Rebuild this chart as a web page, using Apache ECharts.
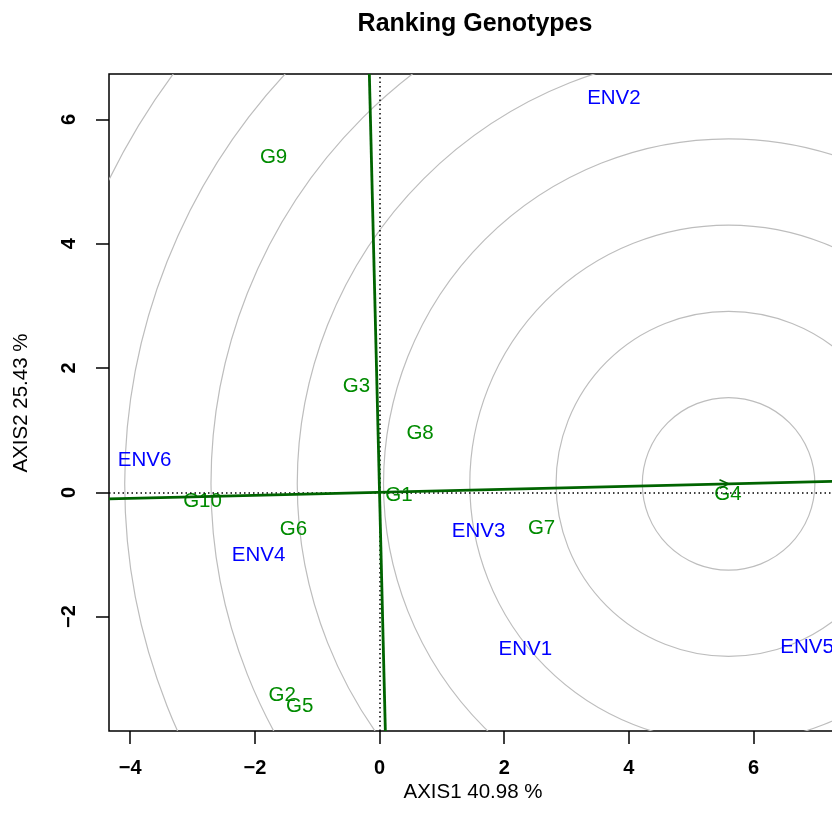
<!DOCTYPE html>
<html>
<head>
<meta charset="utf-8">
<script src="https://cdn.jsdelivr.net/npm/echarts@6/dist/echarts.min.js"></script>
<style>
  html, body { margin: 0; padding: 0; background: #ffffff; }
  #chart { width: 832px; height: 829px; }
</style>
</head>
<body>
<div id="chart"></div>
<script>
// Genotype scores on the first two principal axes
const genotypeNames = ['G1', 'G2', 'G3', 'G4', 'G5', 'G6', 'G7', 'G8', 'G9', 'G10'];
const genotypeX = [0.31, -1.56, -0.37, 5.59, -1.28, -1.38, 2.60, 0.65, -1.70, -2.84];
const genotypeY = [-0.05, -3.26, 1.71, -0.03, -3.45, -0.60, -0.58, 0.95, 5.39, -0.14];

// Environment scores
const envNames = ['ENV1', 'ENV2', 'ENV3', 'ENV4', 'ENV5', 'ENV6'];
const envX = [2.34, 3.76, 1.59, -1.94, 6.86, -3.77];
const envY = [-2.52, 6.34, -0.63, -1.01, -2.49, 0.52];

// Average-environment coordinate (tip of the ranking axis, centre of the rings)
const aecPoint = [5.60, 0.136];
// Radii of the concentric distance rings around the ideal point
const ringRadii = [1.384, 2.768, 4.152, 5.536, 6.920, 8.304, 9.688, 11.072];

// Axis ranges and tick labels
const xRange = [-4.34, 7.74];
const yRange = [-3.84, 6.73];
const xTicks = [-4, -2, 0, 2, 4, 6];
const yTicks = [-2, 0, 2, 4, 6];

const titleText = 'Ranking Genotypes';
const xAxisTitle = 'AXIS1 40.98 %';
const yAxisTitle = 'AXIS2 25.43 %';

const FONT = '"Liberation Sans", Arial, Helvetica, sans-serif';
const GENO_COLOR = '#008b00';
const ENV_COLOR = '#0000ff';
const AXIS_LINE_COLOR = '#006400';

// Ranking axis: the line through the origin and the average environment;
// the second line is perpendicular to it, also through the origin.
const slope = aecPoint[1] / aecPoint[0];
const aecLine = [[xRange[0], xRange[0] * slope], [xRange[1], xRange[1] * slope]];
const perpLine = [[-yRange[0] * slope, yRange[0]], [-yRange[1] * slope, yRange[1]]];

const genotypeData = genotypeNames.map((n, i) => [genotypeX[i], genotypeY[i], n]);
const envData = envNames.map((n, i) => [envX[i], envY[i], n]);

const chart = echarts.init(document.getElementById('chart'), null, { renderer: 'canvas' });

const labelSeries = (name, data, color) => ({
  name: name,
  type: 'scatter',
  data: data,
  symbolSize: 1,
  itemStyle: { color: 'rgba(0,0,0,0)', opacity: 1 },
  z: 4,
  silent: true,
  label: {
    show: true,
    position: 'inside',
    formatter: p => p.data[2],
    color: color,
    fontFamily: FONT,
    fontSize: 20.5,
    fontWeight: 'normal'
  },
  labelLayout: { hideOverlap: false }
});

const tickFmt = v => (v < 0 ? '\u2212' + Math.abs(v) : String(v));

chart.setOption({
  animation: false,
  backgroundColor: '#ffffff',
  title: {
    text: titleText,
    left: 470,
    top: 7,
    textAlign: 'center',
    textStyle: { fontFamily: FONT, fontSize: 25, fontWeight: 'bold', color: '#000000' }
  },
  grid: {
    left: 109,
    top: 74,
    width: 753,
    bottom: 98,
    outerBoundsMode: 'none',
    containLabel: false,
    show: true,
    borderColor: '#000000',
    borderWidth: 1.5,
    backgroundColor: 'transparent'
  },
  xAxis: {
    type: 'value',
    min: xRange[0],
    max: xRange[1],
    splitLine: { show: false },
    axisLine: { show: false, onZero: false },
    axisTick: { show: true, inside: false, length: 13, customValues: xTicks, lineStyle: { color: '#000', width: 1.5 } },
    axisLabel: {
      show: true, customValues: xTicks, margin: 27,
      formatter: tickFmt,
      fontFamily: FONT, fontSize: 20, fontWeight: 'bold', color: '#000'
    }
  },
  yAxis: {
    type: 'value',
    min: yRange[0],
    max: yRange[1],
    splitLine: { show: false },
    axisLine: { show: false, onZero: false },
    axisTick: { show: true, inside: false, length: 13, customValues: yTicks, lineStyle: { color: '#000', width: 1.5 } },
    axisLabel: {
      show: true, customValues: yTicks, margin: 30, rotate: 90,
      formatter: tickFmt,
      fontFamily: FONT, fontSize: 20, fontWeight: 'bold', color: '#000'
    }
  },
  graphic: [
    {
      type: 'text', x: 473, y: 792,
      style: { text: xAxisTitle, fontFamily: FONT, fontSize: 20.5, fill: '#000', align: 'center', verticalAlign: 'middle' }
    },
    {
      type: 'text', x: 21, y: 403, rotation: Math.PI / 2,
      style: { text: yAxisTitle, fontFamily: FONT, fontSize: 20.5, fill: '#000', align: 'center', verticalAlign: 'middle' }
    }
  ],
  series: [
    {
      // concentric distance rings
      name: 'rings',
      type: 'custom',
      clip: true,
      silent: true,
      z: 1,
      data: ringRadii.map(r => [aecPoint[0], aecPoint[1], r]),
      renderItem: (params, api) => {
        const c = api.coord([api.value(0), api.value(1)]);
        const r = api.size([api.value(2), 0])[0];
        return {
          type: 'circle',
          shape: { cx: c[0], cy: c[1], r: r },
          style: { fill: 'none', stroke: '#bdbdbd', lineWidth: 1.2 }
        };
      }
    },
    {
      // dotted reference lines through the origin
      name: 'origin',
      type: 'line',
      data: [],
      z: 2,
      silent: true,
      markLine: {
        silent: true,
        symbol: ['none', 'none'],
        label: { show: false },
        lineStyle: { color: '#000', width: 1.5, type: [1.5, 3] },
        data: [{ xAxis: 0 }, { yAxis: 0 }]
      }
    },
    labelSeries('Environments', envData, ENV_COLOR),
    labelSeries('Genotypes', genotypeData, GENO_COLOR),
    {
      name: 'aec',
      type: 'line',
      data: aecLine,
      showSymbol: false,
      z: 5,
      silent: true,
      lineStyle: { color: AXIS_LINE_COLOR, width: 2.8 }
    },
    {
      name: 'perp',
      type: 'line',
      data: perpLine,
      showSymbol: false,
      z: 5,
      silent: true,
      lineStyle: { color: AXIS_LINE_COLOR, width: 2.8 }
    },
    {
      // small open arrowhead at the average environment
      name: 'arrow',
      type: 'custom',
      silent: true,
      z: 5,
      data: [aecPoint],
      renderItem: (params, api) => {
        const tip = api.coord([api.value(0), api.value(1)]);
        const o = api.coord([0, 0]);
        const ang = Math.atan2(tip[1] - o[1], tip[0] - o[0]);
        const len = 10, spread = Math.PI / 7;
        const a1 = [tip[0] - len * Math.cos(ang - spread), tip[1] - len * Math.sin(ang - spread)];
        const a2 = [tip[0] - len * Math.cos(ang + spread), tip[1] - len * Math.sin(ang + spread)];
        return {
          type: 'polyline',
          shape: { points: [a1, tip, a2] },
          style: { fill: 'none', stroke: AXIS_LINE_COLOR, lineWidth: 1.5 }
        };
      }
    }
  ]
});
</script>
</body>
</html>
